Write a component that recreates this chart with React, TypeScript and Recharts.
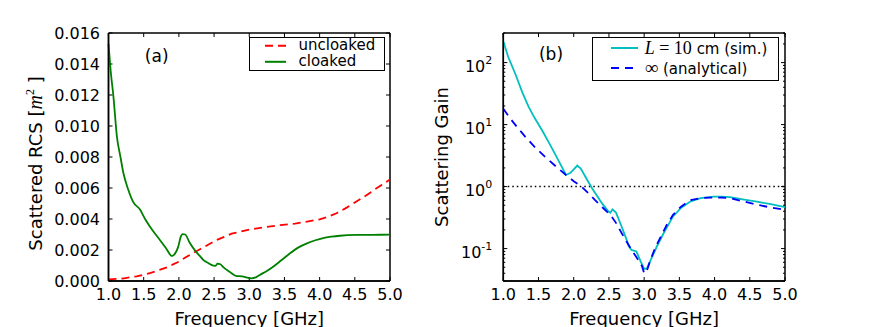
import React from "react";
import { LineChart, Line, XAxis, YAxis, ReferenceLine, Legend } from "recharts";

// (a) scattered RCS [m^2]
const uncloakedFreq = [1.0, 1.2, 1.4, 1.6, 1.83, 2.0, 2.11, 2.3, 2.54, 2.75, 3.0, 3.2, 3.44, 3.65, 3.82, 4.0, 4.12, 4.24, 4.36, 4.48, 4.62, 4.76, 4.88, 5.0];
const uncloakedRcs = [0.0001, 0.00016, 0.0003, 0.00052, 0.00088, 0.00125, 0.00157, 0.00205, 0.00265, 0.00305, 0.00332, 0.00346, 0.00361, 0.0037, 0.00383, 0.00398, 0.00414, 0.00437, 0.00467, 0.00501, 0.0054, 0.00583, 0.0062, 0.00655];

const cloakedFreq = [1.0, 1.03, 1.07, 1.12, 1.17, 1.21, 1.28, 1.35, 1.45, 1.52, 1.59, 1.73, 1.82, 1.9, 1.95, 1.99, 2.03, 2.05, 2.09, 2.15, 2.23, 2.3, 2.35, 2.42, 2.49, 2.52, 2.55, 2.59, 2.63, 2.72, 2.82, 2.9, 2.97, 3.03, 3.1, 3.15, 3.25, 3.34, 3.46, 3.58, 3.7, 3.82, 3.94, 4.05, 4.17, 4.29, 4.52, 4.75, 5.0];
const cloakedRcs = [0.0153, 0.0136, 0.0119, 0.0093, 0.008, 0.007, 0.0059, 0.0051, 0.0046, 0.004, 0.0035, 0.00265, 0.0021, 0.00161, 0.0018, 0.0022, 0.0029, 0.00303, 0.003, 0.0025, 0.00196, 0.0016, 0.00135, 0.00115, 0.00099, 0.00098, 0.00112, 0.00108, 0.0009, 0.0006, 0.00032, 0.0003, 0.00022, 0.00017, 0.00025, 0.00039, 0.00065, 0.00092, 0.00135, 0.00179, 0.00217, 0.00243, 0.00263, 0.00277, 0.00286, 0.00292, 0.00297, 0.00298, 0.00299];

// (b) scattering gain
const simFreq = [1.0, 1.07, 1.17, 1.27, 1.36, 1.45, 1.55, 1.64, 1.73, 1.81, 1.89, 1.95, 2.0, 2.05, 2.1, 2.18, 2.26, 2.33, 2.4, 2.49, 2.52, 2.55, 2.6, 2.68, 2.74, 2.78, 2.82, 2.89, 2.95, 3.0, 3.04, 3.1, 3.18, 3.28, 3.41, 3.52, 3.65, 3.8, 3.98, 4.1, 4.22, 4.4, 4.6, 4.8, 5.0];
const simGain = [220, 123, 66, 33, 19.3, 12.5, 8.1, 5.3, 3.44, 2.3, 1.54, 1.65, 1.9, 2.18, 1.95, 1.35, 0.94, 0.71, 0.54, 0.4, 0.38, 0.43, 0.38, 0.227, 0.15, 0.111, 0.095, 0.09, 0.062, 0.047, 0.048, 0.068, 0.108, 0.18, 0.33, 0.45, 0.57, 0.65, 0.69, 0.69, 0.675, 0.62, 0.57, 0.52, 0.465];

const anaFreq = [1.0, 1.1, 1.2, 1.31, 1.45, 1.59, 1.75, 1.89, 2.0, 2.11, 2.2, 2.3, 2.41, 2.52, 2.6, 2.68, 2.75, 2.82, 2.9, 2.97, 3.0, 3.03, 3.09, 3.16, 3.24, 3.32, 3.41, 3.52, 3.65, 3.8, 3.93, 4.1, 4.22, 4.4, 4.6, 4.8, 5.0];
const anaGain = [18, 12.5, 9.0, 6.4, 4.3, 3.04, 2.1, 1.54, 1.22, 1.0, 0.8, 0.61, 0.46, 0.35, 0.26, 0.178, 0.13, 0.096, 0.07, 0.052, 0.04, 0.041, 0.066, 0.105, 0.158, 0.24, 0.35, 0.47, 0.6, 0.65, 0.665, 0.665, 0.655, 0.58, 0.51, 0.46, 0.42];

const freqTicks = [1.0, 1.5, 2.0, 2.5, 3.0, 3.5, 4.0, 4.5, 5.0];
const rcsTicks = [0, 0.002, 0.004, 0.006, 0.008, 0.01, 0.012, 0.014, 0.016];
const gainMajor = [0.1, 1, 10, 100];
const gainTicks = [0.03, 0.04, 0.05, 0.06, 0.07, 0.08, 0.09, 0.1, 0.2, 0.3, 0.4, 0.5, 0.6, 0.7, 0.8, 0.9, 1, 2, 3, 4, 5, 6, 7, 8, 9, 10, 20, 30, 40, 50, 60, 70, 80, 90, 100, 200, 300];

const FREQ_DOMAIN = [1, 5];
const RCS_DOMAIN = [0, 0.016];
const GAIN_DOMAIN = [0.03, 300];

const FONT = "'DejaVu Sans', sans-serif";
const SERIF = "'Liberation Serif', 'DejaVu Serif', serif";

const zip = (f: number[], v: number[]) => f.map((x, i) => ({ f: x, v: v[i] }));
const isMajor = (v: number) => gainMajor.some(m => Math.abs(m - v) < 1e-9);

// tick labels; recharts puts the anchor 8px off the axis (tickSize 6 + tickMargin 2)
const freqLabel = (p: any) => (
  <text x={p.x} y={p.y + 11} textAnchor="middle" fontFamily={FONT} fontSize={16} fill="#000">{p.payload.value.toFixed(1)}</text>
);
const rcsLabel = (p: any) => (
  <text x={p.x - 0.5} y={p.y + 6} textAnchor="end" fontFamily={FONT} fontSize={16} fill="#000">{p.payload.value.toFixed(3)}</text>
);
const gainLabel = (p: any) => {
  const v = p.payload.value;
  if (!isMajor(v)) return <g />;
  return (
    <text x={p.x - 3} y={p.y + 9} textAnchor="end" fontFamily={FONT} fontSize={16} fill="#000">
      <tspan>10</tspan>
      <tspan dy={-8} fontSize={11}>{Math.round(Math.log10(v))}</tspan>
    </text>
  );
};

// inward tick marks at both ends of a full-span reference line
const vTickShape = (len: number) => (p: any) => {
  const top = Math.min(p.y1, p.y2);
  const bot = Math.max(p.y1, p.y2);
  return (
    <g>
      <line x1={p.x1} y1={top} x2={p.x1} y2={top + len} stroke="#000" strokeWidth={1} />
      <line x1={p.x1} y1={bot} x2={p.x1} y2={bot - len} stroke="#000" strokeWidth={1} />
    </g>
  );
};
const hTickShape = (len: number) => (p: any) => {
  const l = Math.min(p.x1, p.x2);
  const r = Math.max(p.x1, p.x2);
  return (
    <g>
      <line x1={l} y1={p.y1} x2={l + len} y2={p.y1} stroke="#000" strokeWidth={1} />
      <line x1={r} y1={p.y1} x2={r - len} y2={p.y1} stroke="#000" strokeWidth={1} />
    </g>
  );
};

type LegendCfg = { w: number; h: number; sx: number; sw: number; tx: number; cy: number; dy: number; order: string[]; labels: Record<string, React.ReactNode> };

const makeLegend = (cfg: LegendCfg) => (props: any) => {
  const items = [...(props.payload || [])].sort((a: any, b: any) => cfg.order.indexOf(a.value) - cfg.order.indexOf(b.value));
  return (
    <div style={{ position: "relative", width: cfg.w, height: cfg.h, border: "1.5px solid #000", boxSizing: "border-box", background: "#fff", fontFamily: FONT, fontSize: 15, color: "#000" }}>
      {items.map((e: any, i: number) => (
        <div key={i} style={{ position: "absolute", left: 0, top: cfg.cy + i * cfg.dy - cfg.dy / 2, height: cfg.dy, width: "100%" }}>
          <svg style={{ position: "absolute", left: cfg.sx, top: 0 }} width={cfg.sw} height={cfg.dy}>
            <line x1={0} y1={cfg.dy / 2} x2={cfg.sw} y2={cfg.dy / 2} stroke={e.color} strokeWidth={2} strokeDasharray={e.payload?.strokeDasharray} />
          </svg>
          <div style={{ position: "absolute", left: cfg.tx, top: 0, height: cfg.dy, lineHeight: `${cfg.dy}px`, whiteSpace: "nowrap" }}>{cfg.labels[e.value] ?? e.value}</div>
        </div>
      ))}
    </div>
  );
};

const legendA = makeLegend({ w: 136, h: 34, sx: 14.5, sw: 21, tx: 48.5, cy: 8, dy: 15.6, order: ["uncloaked", "cloaked"], labels: {} });
const legendB = makeLegend({
  w: 187, h: 44, sx: 18.5, sw: 27, tx: 52, cy: 9.5, dy: 20, order: ["sim", "ana"],
  labels: {
    sim: (
      <span>
        <i style={{ fontFamily: SERIF, fontSize: 18 }}>L</i>
        <span style={{ fontFamily: SERIF, fontSize: 18 }}> = 10</span> cm (sim.)
      </span>
    ),
    ana: (
      <span>
        <span style={{ fontFamily: SERIF, fontSize: 19 }}>∞</span> (analytical)
      </span>
    ),
  },
});

const rcsYLabel = (p: any) => {
  const vb = p.viewBox;
  const x = vb.x + 42;
  const y = vb.y + vb.height / 2 + 6.5;
  return (
    <text x={x} y={y} transform={`rotate(-90 ${x} ${y})`} textAnchor="middle" fontFamily={FONT} fontSize={18} fill="#000">
      Scattered RCS [
      <tspan fontFamily={SERIF} fontStyle="italic" fontSize={20}>m</tspan>
      <tspan dy={-8} fontFamily={SERIF} fontSize={12}>2</tspan>
      <tspan dy={8}> ]</tspan>
    </text>
  );
};

const gainYLabel = (p: any) => {
  const vb = p.viewBox;
  const x = vb.x + 18;
  const y = vb.y + vb.height / 2;
  return (
    <text x={x} y={y} transform={`rotate(-90 ${x} ${y})`} textAnchor="middle" fontFamily={FONT} fontSize={18} fill="#000">
      Scattering Gain
    </text>
  );
};

const xLabel = { value: "Frequency [GHz]", position: "insideBottom" as const, offset: 2.5, fontSize: 18, fill: "#000", fontFamily: FONT };

const panelTag = (text: string, left: number, top: number) => (
  <div style={{ position: "absolute", left, top, transform: "translate(-50%, -50%)", fontFamily: FONT, fontSize: 17, color: "#000", pointerEvents: "none" }}>{text}</div>
);

const frame = (xd: number[], yd: number[]) => [
  <ReferenceLine key="fl" x={xd[0]} stroke="#000" strokeWidth={1.5} />,
  <ReferenceLine key="fr" x={xd[1]} stroke="#000" strokeWidth={1.5} />,
  <ReferenceLine key="fb" y={yd[0]} stroke="#000" strokeWidth={1.5} />,
  <ReferenceLine key="ft" y={yd[1]} stroke="#000" strokeWidth={1.5} />,
];

export default function App() {
  return (
    <div style={{ position: "absolute", left: 0, top: 0, width: 872, height: 327, background: "#fff" }}>
      <div style={{ position: "absolute", left: 0, top: 0 }}>
        <LineChart width={420} height={327} margin={{ top: 33, right: 30, bottom: 0, left: 0 }}>
          <XAxis dataKey="f" type="number" domain={FREQ_DOMAIN} ticks={freqTicks} interval={0} height={46} tickLine={false} stroke="#000" strokeWidth={1.5} tick={freqLabel} label={xLabel} />
          <YAxis type="number" domain={RCS_DOMAIN} ticks={rcsTicks} interval={0} width={108.5} tickLine={false} stroke="#000" strokeWidth={1.5} tick={rcsLabel} label={rcsYLabel} />
          {freqTicks.map(t => <ReferenceLine key={"x" + t} x={t} shape={vTickShape(4)} />)}
          {rcsTicks.map(t => <ReferenceLine key={"y" + t} y={t} shape={hTickShape(4)} />)}
          {frame(FREQ_DOMAIN, RCS_DOMAIN)}
          <Legend content={legendA} layout="horizontal" verticalAlign="middle" align="center" wrapperStyle={{ left: 249, top: 37, width: 136, height: 34 }} />
          <Line data={zip(uncloakedFreq, uncloakedRcs)} dataKey="v" name="uncloaked" stroke="#ff0000" strokeWidth={1.8} strokeDasharray="8 5" dot={false} isAnimationActive={false} type="linear" />
          <Line data={zip(cloakedFreq, cloakedRcs)} dataKey="v" name="cloaked" stroke="#008000" strokeWidth={1.8} dot={false} isAnimationActive={false} type="monotone" />
        </LineChart>
        {panelTag("(a)", 156.7, 56)}
      </div>
      <div style={{ position: "absolute", left: 430, top: 0 }}>
        <LineChart width={442} height={327} margin={{ top: 33, right: 87, bottom: 0, left: 0 }}>
          <XAxis dataKey="f" type="number" domain={FREQ_DOMAIN} ticks={freqTicks} interval={0} height={46} tickLine={false} stroke="#000" strokeWidth={1.5} tick={freqLabel} label={xLabel} />
          <YAxis type="number" scale="log" domain={GAIN_DOMAIN} ticks={gainTicks} interval={0} width={73.3} tickLine={false} stroke="#000" strokeWidth={1.5} tick={gainLabel} label={gainYLabel} allowDataOverflow />
          {freqTicks.map(t => <ReferenceLine key={"x" + t} x={t} shape={vTickShape(4)} />)}
          {gainTicks.map(t => <ReferenceLine key={"y" + t} y={t} shape={hTickShape(isMajor(t) ? 4 : 2)} />)}
          {frame(FREQ_DOMAIN, GAIN_DOMAIN)}
          <Legend content={legendB} layout="horizontal" verticalAlign="middle" align="center" wrapperStyle={{ left: 161.7, top: 37, width: 187, height: 44 }} />
          <ReferenceLine y={1} stroke="#000" strokeWidth={1.5} strokeDasharray="1.5 3" />
          <Line data={zip(simFreq, simGain)} dataKey="v" name="sim" stroke="#00bfbf" strokeWidth={1.8} dot={false} isAnimationActive={false} type="linear" />
          <Line data={zip(anaFreq, anaGain)} dataKey="v" name="ana" stroke="#0000ff" strokeWidth={1.8} strokeDasharray="8 6" dot={false} isAnimationActive={false} type="linear" />
        </LineChart>
        {panelTag("(b)", 121, 54)}
      </div>
    </div>
  );
}
